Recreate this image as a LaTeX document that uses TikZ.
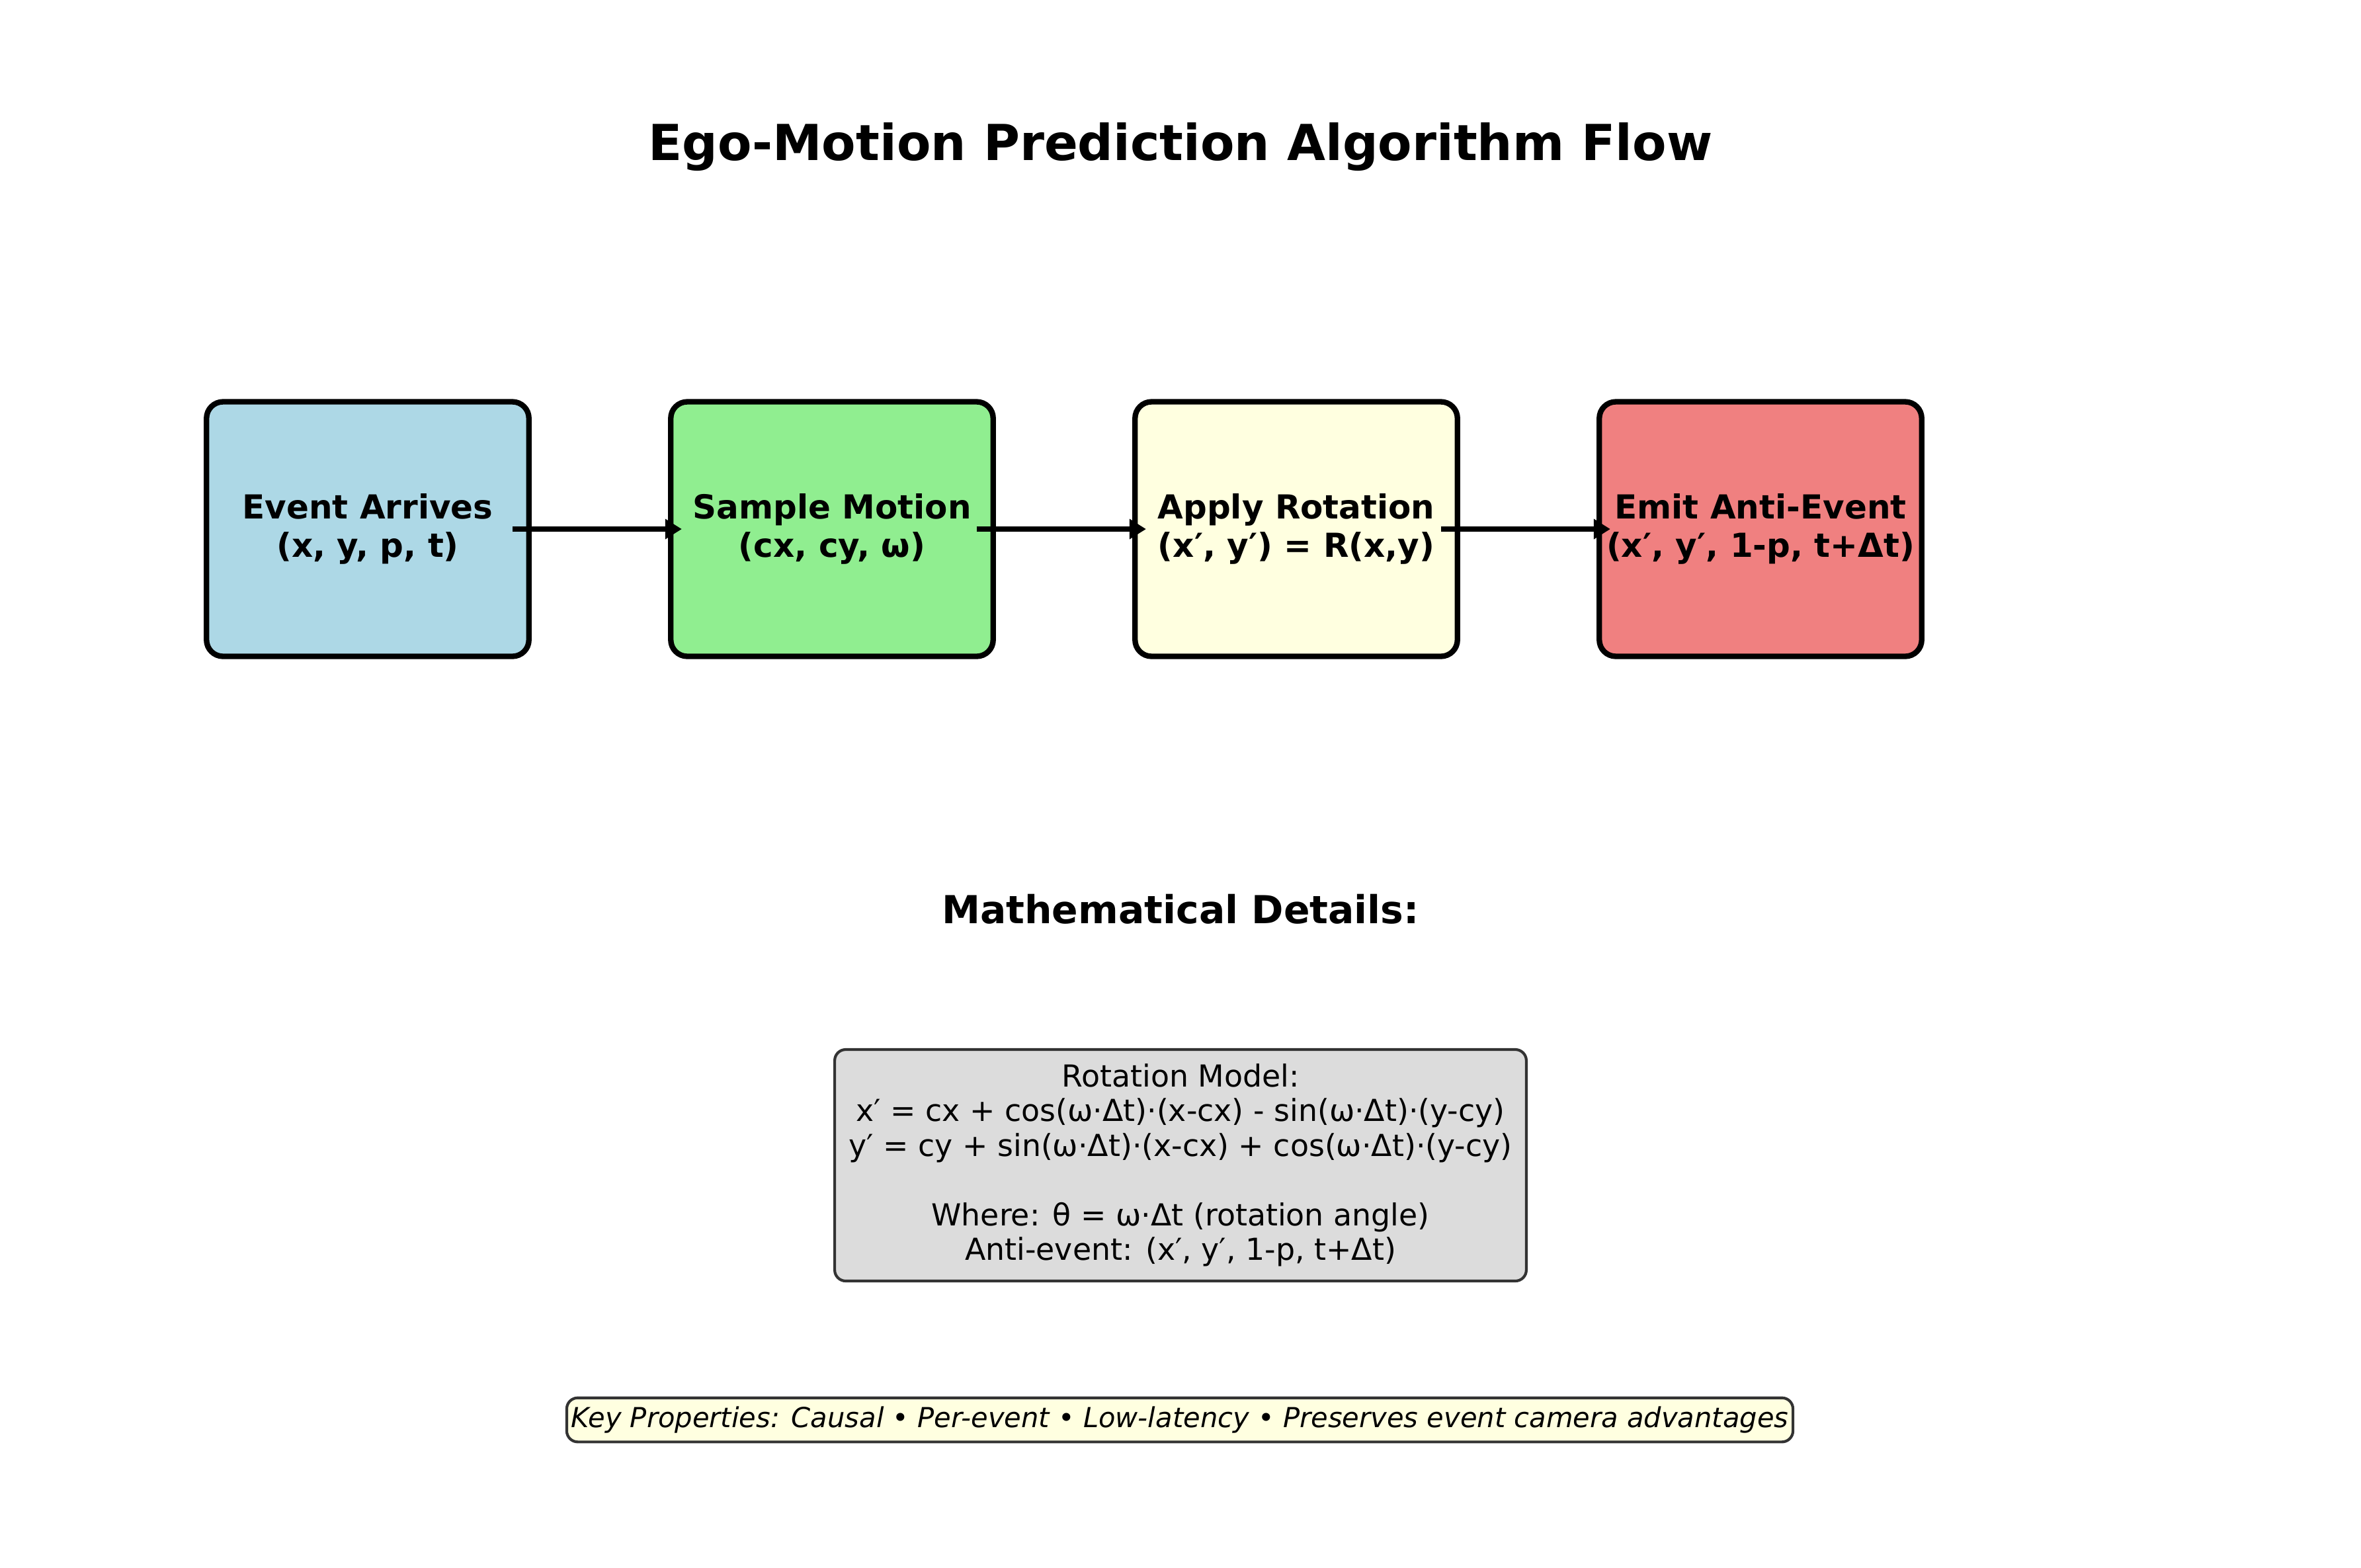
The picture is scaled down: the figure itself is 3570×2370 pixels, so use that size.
\documentclass[tikz,border=0pt]{standalone}
\usepackage{fontspec}
\setmainfont{DejaVu Sans}
\usetikzlibrary{arrows.meta}
\definecolor{stageblue}{HTML}{ADD8E6}
\definecolor{stagegreen}{HTML}{90EE90}
\definecolor{stageyellow}{HTML}{FFFFE0}
\definecolor{stagered}{HTML}{F08080}
\definecolor{mathgray}{HTML}{DCDCDC}
\definecolor{edgegray}{HTML}{333333}
\begin{document}
\begin{tikzpicture}[x=0.24pt,y=-0.24pt,
  stagebox/.style={draw=black, line width=2pt, rounded corners=6pt,
    minimum width=117pt, minimum height=92.4pt, inner sep=0pt, align=center,
    font=\fontsize{12}{14}\selectfont\bfseries},
  flowarrow/.style={line width=2pt, -{Triangle[length=6pt,width=7pt]}},
  notebox/.style={draw=edgegray, line width=1pt, rounded corners=4pt, align=center}]
\useasboundingbox (0,0) rectangle (3570,2370);

% heading
\node[font=\fontsize{18}{21}\selectfont\bfseries] (title) at (1785,222)
  {Ego-Motion Prediction Algorithm Flow};

% processing stages
\node[stagebox, fill=stageblue]   (arrive) at (556,800)  {Event Arrives\\(x, y, p, t)};
\node[stagebox, fill=stagegreen]  (sample) at (1258,800) {Sample Motion\\(cx, cy, ω)};
\node[stagebox, fill=stageyellow] (rotate) at (1960,800) {Apply Rotation\\(x′, y′) = R(x,y)};
\node[stagebox, fill=stagered]    (emit)   at (2662,800) {Emit Anti-Event\\(x′, y′, 1-p, t+Δt)};

% connectors between stages
\draw[flowarrow] ([xshift=-7pt]arrive.east) -- ([xshift=5pt]sample.west);
\draw[flowarrow] ([xshift=-7pt]sample.east) -- ([xshift=5pt]rotate.west);
\draw[flowarrow] ([xshift=-7pt]rotate.east) -- ([xshift=5pt]emit.west);

% formulas
\node[font=\fontsize{14}{17}\selectfont\bfseries] (mathhead) at (1785,1375)
  {Mathematical Details:};
\node[notebox, fill=mathgray, minimum width=251pt, minimum height=84pt,
      font=\fontsize{11}{12.6}\selectfont] (formulas) at (1785,1762)
  {Rotation Model:\\
   x′ = cx + cos(ω·Δt)·(x-cx) - sin(ω·Δt)·(y-cy)\\
   y′ = cy + sin(ω·Δt)·(x-cx) + cos(ω·Δt)·(y-cy)\\[12.6pt]
   Where: θ = ω·Δt (rotation angle)\\
   Anti-event: (x′, y′, 1-p, t+Δt)};

% summary line
\node[notebox, fill=stageyellow, minimum width=445pt, minimum height=16pt,
      inner sep=0pt, font=\fontsize{10}{12}\selectfont\itshape] (keyprops) at (1784,2147)
  {Key Properties: Causal • Per-event • Low-latency • Preserves event camera advantages};
\end{tikzpicture}
\end{document}
